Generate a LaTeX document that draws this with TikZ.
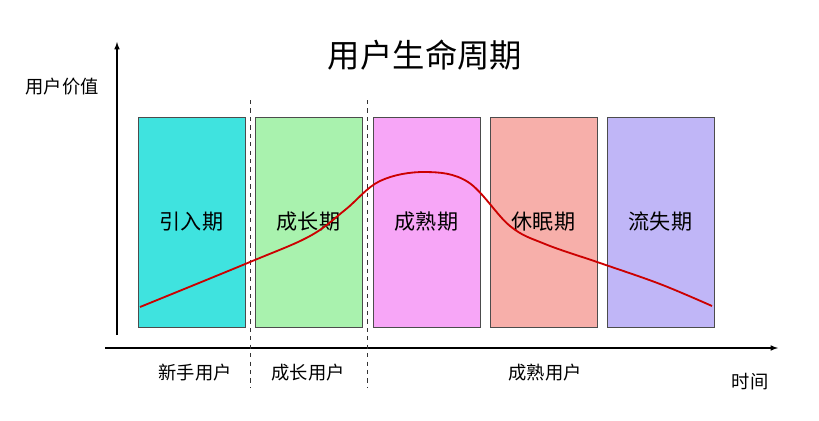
\documentclass[tikz,border=0pt]{standalone}
\usepackage{fontspec}
\setmainfont{Noto Sans CJK SC}
\usetikzlibrary{arrows}
\definecolor{introc}{HTML}{3FE3DF}
\definecolor{growc}{HTML}{A9F2AE}
\definecolor{maturec}{HTML}{F7A6F7}
\definecolor{sleepc}{HTML}{F7AFAA}
\definecolor{lostc}{HTML}{C0B6F7}
\tikzstyle{stage} = [rectangle, draw=black!70, minimum width=2.675cm, minimum height=5.25cm, font=\fontsize{15}{18}\selectfont, inner sep=0]
\tikzstyle{label} = [inner sep=0, font=\fontsize{13}{16}\selectfont]
\tikzstyle{axis} = [draw, line width=0.8pt, -latex]
\tikzstyle{split} = [draw, dashed, black!80]

\begin{document}
\begin{tikzpicture}[x=0.025cm, y=-0.025cm]
\useasboundingbox (0,0) rectangle (819,420);

\node [stage, fill=introc] (intro) at (191.5,222) {引入期};
\node [stage, fill=growc] (grow) at (308.5,222) {成长期};
\node [stage, fill=maturec] (mature) at (426.5,222) {成熟期};
\node [stage, fill=sleepc] (sleep) at (543.5,222) {休眠期};
\node [stage, fill=lostc] (lost) at (660.5,222) {流失期};

\node [font=\fontsize{23}{28}\selectfont] (title) at (425,55) {用户生命周期};
\node [label] (value) at (62,87) {用户价值};
\node [label] (time) at (750,382) {时间};
\node [label] (newbie) at (195,373) {新手用户};
\node [label] (growing) at (308,373) {成长用户};
\node [label] (mature-u) at (545,373) {成熟用户};

\coordinate (ytop) at (117,42);
\coordinate (xend) at (778,348);
\coordinate (ybot) at (117,335);
\coordinate (xbeg) at (105,348);
\path [axis] (ybot) -- (ytop);
\path [axis] (xbeg) -- (xend);

\coordinate (s1a) at (250,100);
\coordinate (s1b) at (250,388);
\coordinate (s2a) at (367,100);
\coordinate (s2b) at (367,388);
\path [split] (s1a) -- (s1b);
\path [split] (s2a) -- (s2b);

% value curve
\draw [red!80!black, line width=1.3pt] plot [smooth, tension=0.6] coordinates {
  (140,307) (250,262) (310,236) (345,210) (380,181) (425,172) (468,182)
  (510,226) (545,244) (600,263) (660,284) (712,306)};

\end{tikzpicture}
\end{document}
